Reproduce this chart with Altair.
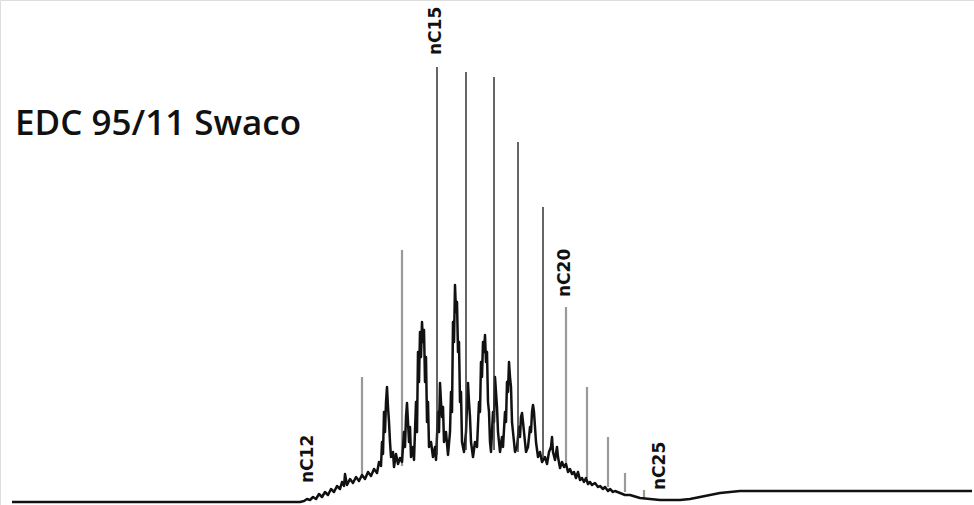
import altair as alt
import pandas as pd

# Chromatogram trace: [retention position, detector response]
trace_points = [
    [12, 0], [300, 0], [304, 1], [307, 3], [310, 2], [313, 5], [316, 3], [319, 8], [322, 5], [325, 10],
    [328, 7], [331, 13], [334, 10], [337, 16], [340, 13], [342, 20], [344, 16], [345, 28], [347, 17], [350, 23],
    [353, 19], [356, 25], [359, 21], [362, 27], [365, 23], [368, 30], [371, 26], [374, 33], [377, 29], [379, 40],
    [381, 36], [382, 60], [383, 48], [384, 90], [385, 70], [386, 100], [387, 115], [388, 95], [389, 80], [390, 60],
    [391, 45], [393, 50], [394, 35], [396, 48], [398, 38], [400, 44], [402, 40], [404, 70], [405, 55], [406, 85],
    [407, 99], [408, 80], [409, 60], [410, 75], [411, 45], [413, 55], [414, 42], [416, 100], [417, 70], [418, 150],
    [419, 120], [420, 170], [421, 145], [422, 180], [423, 160], [424, 172], [425, 120], [426, 145], [427, 80], [428, 100],
    [429, 55], [431, 60], [433, 45], [435, 55], [436, 42], [438, 90], [439, 70], [440, 119], [441, 100], [442, 85],
    [443, 95], [444, 60], [446, 70], [448, 47], [450, 70], [451, 110], [452, 90], [453, 180], [454, 160], [455, 217],
    [456, 190], [457, 200], [458, 150], [459, 160], [460, 100], [461, 110], [462, 60], [464, 50], [466, 70], [467, 95],
    [468, 119], [469, 100], [470, 85], [471, 60], [473, 45], [475, 60], [477, 55], [479, 100], [480, 90], [481, 140],
    [482, 125], [483, 160], [484, 150], [485, 167], [486, 140], [487, 150], [488, 100], [489, 90], [490, 60], [491, 50],
    [492, 70], [493, 90], [494, 80], [495, 125], [496, 110], [497, 95], [498, 70], [500, 50], [502, 65], [503, 55],
    [505, 90], [506, 80], [507, 120], [508, 110], [509, 140], [510, 125], [511, 115], [512, 80], [513, 70], [515, 50],
    [517, 55], [519, 75], [520, 65], [521, 85], [522, 89], [523, 80], [524, 70], [526, 50], [528, 55], [530, 75],
    [531, 70], [532, 90], [533, 97], [534, 90], [535, 75], [536, 60], [538, 45], [540, 50], [542, 40], [545, 45],
    [547, 38], [549, 50], [551, 55], [552, 65], [553, 50], [555, 42], [557, 55], [558, 45], [560, 34], [562, 40],
    [564, 35], [566, 38], [568, 30], [570, 33], [572, 28], [574, 30], [576, 24], [578, 30], [580, 22], [582, 24],
    [584, 20], [586, 24], [588, 18], [590, 20], [592, 17], [595, 19], [598, 15], [600, 16], [603, 13], [605, 15],
    [608, 11], [610, 13], [613, 10], [615, 11], [620, 9], [625, 7], [630, 7], [640, 4], [650, 3], [660, 2],
    [670, 2], [680, 2], [690, 3], [700, 5], [710, 7], [720, 9], [730, 10], [740, 11], [972, 11],
]

# Resolved n-alkane peaks: dominant (dark) and minor (grey)
dark_x = [437, 466, 494, 518, 543]
dark_top = [435, 430, 425, 360, 295]
dark_base = [47, 52, 52, 50, 44]

grey_x = [362, 402, 566, 587, 608, 625, 644]
grey_top = [125, 252, 195, 115, 65, 29, 12]
grey_base = [24, 36, 37, 24, 15, 10, 4]

# Peak labels
label_text = ["nC12", "nC15", "nC20", "nC25"]
label_x = [308, 436, 565, 660]
label_y = [19, 447, 205, 12]

title_text = "EDC 95/11 Swaco"

trace = pd.DataFrame(trace_points, columns=["t", "r"])
trace["o"] = range(len(trace))
dark = pd.DataFrame({"t": dark_x, "top": dark_top, "base": dark_base})
grey = pd.DataFrame({"t": grey_x, "top": grey_top, "base": grey_base})
labels = pd.DataFrame({"t": label_x, "r": label_y, "txt": label_text})

xs = alt.Scale(domain=[0, 974], nice=False, zero=False)
ys = alt.Scale(domain=[-3, 502], nice=False, zero=False)

line = alt.Chart(trace).mark_line(color="#111111", strokeWidth=2.5, strokeJoin="round").encode(
    x=alt.X("t:Q", scale=xs, axis=None),
    y=alt.Y("r:Q", scale=ys, axis=None),
    order="o:Q",
)

grey_rules = alt.Chart(grey).mark_rule(color="#9a9a9a", strokeWidth=2.2).encode(
    x=alt.X("t:Q", scale=xs, axis=None),
    y=alt.Y("top:Q", scale=ys, axis=None),
    y2="base:Q",
)

dark_rules = alt.Chart(dark).mark_rule(color="#333333", strokeWidth=1.5).encode(
    x=alt.X("t:Q", scale=xs, axis=None),
    y=alt.Y("top:Q", scale=ys, axis=None),
    y2="base:Q",
)

label_layer = alt.Chart(labels).mark_text(
    angle=270, align="left", baseline="middle", font="DejaVu Sans", fontWeight="bold",
    fontSize=17, color="#111111",
).encode(
    x=alt.X("t:Q", scale=xs, axis=None),
    y=alt.Y("r:Q", scale=ys, axis=None),
    text="txt:N",
)

title = alt.Chart(pd.DataFrame({"txt": [title_text]})).mark_text(
    align="left", baseline="alphabetic", font="Open Sans", fontSize=35, fontWeight=600, color="#111111",
).encode(
    x=alt.value(15), y=alt.value(135), text="txt:N",
)

chart = alt.layer(grey_rules, line, dark_rules, label_layer, title).properties(
    width=974, height=505, padding=0, autosize=alt.AutoSizeParams(type="none"),
).configure_view(stroke=None).configure(background="white")

chart.save("out.html", embed_options={"renderer": "svg", "actions": False})
